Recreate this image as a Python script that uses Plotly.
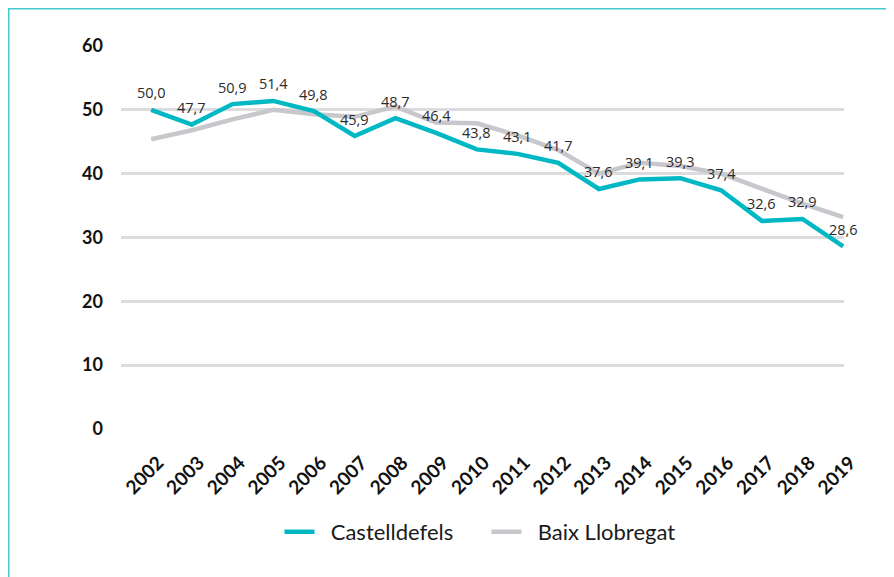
import plotly.graph_objects as go

years = list(range(2002, 2020))
castelldefels = [50.0, 47.7, 50.9, 51.4, 49.8, 45.9, 48.7, 46.4, 43.8, 43.1, 41.7,
                 37.6, 39.1, 39.3, 37.4, 32.6, 32.9, 28.6]
baix_llobregat = [45.4, 46.8, 48.5, 50.0, 49.3, 48.9, 50.5, 48.0, 47.9, 46.0, 43.7,
                  40.0, 41.7, 41.2, 40.0, 37.7, 35.3, 33.2]
y_ticks = [0, 10, 20, 30, 40, 50, 60]

TEAL = "#00B8C4"
GRAY = "#C8C7CB"
PAD = "\u00a0\u00a0"

fig = go.Figure()
fig.add_trace(go.Scatter(x=years, y=baix_llobregat, mode="lines", name=PAD + "Baix Llobregat",
                         line=dict(color=GRAY, width=4.5)))
fig.add_trace(go.Scatter(x=years, y=castelldefels, mode="lines", name=PAD + "Castelldefels",
                         line=dict(color=TEAL, width=4.5)))

for yr, v in zip(years, castelldefels):
    fig.add_annotation(x=yr, y=v, text=f"{v:.1f}".replace(".", ","), showarrow=False,
                       yshift=17, font=dict(family="Open Sans", size=14.5, color="#2b2b2b"))

# the page body adds an 8px offset; plot area in window px: left 121, right 844, top 46, bottom 429
OFF = 8
L, R, T, B = 121 - OFF, 844 - OFF, 46 - OFF, 429 - OFF
H = B - T

fig.add_shape(type="rect", xref="paper", yref="paper",
              x0=(0.5 - L) / (R - L), x1=(905 - L) / (R - L),
              y0=(B - 600) / H, y1=(B - 0.5) / H,
              line=dict(color="#45C9D1", width=2), fillcolor="rgba(0,0,0,0)", layer="below")

fig.update_layout(
    width=894, height=577,
    margin=dict(l=L, r=894 - R, t=T, b=577 - B),
    paper_bgcolor="white", plot_bgcolor="white",
    showlegend=True,
    legend=dict(orientation="h", x=0.5055, xanchor="center", y=(B - (532 - OFF)) / H, yanchor="middle",
                font=dict(family="Lato", size=22, color="#1a1a1a"), traceorder="reversed",
                itemwidth=30, entrywidth=162, bgcolor="rgba(0,0,0,0)"),
    xaxis=dict(range=[2001.26, 2019.02], tickmode="array", tickvals=years,
               ticktext=[str(y) for y in years], tickangle=-45, showgrid=False,
               zeroline=False, showline=False, ticks="", ticklabelstandoff=18,
               ticklabelshift=7,
               tickfont=dict(family="Lato", size=19, color="#111111", weight="bold"),
               fixedrange=True),
    yaxis=dict(range=[0, 60], tickmode="array", tickvals=y_ticks,
               showgrid=True, gridcolor="#DCDCDE", gridwidth=2.5, zeroline=False,
               showline=False, ticks="", ticklabelstandoff=17,
               tickfont=dict(family="Lato", size=18, color="#111111", weight="bold")),
)
fig.write_html("out.html")
